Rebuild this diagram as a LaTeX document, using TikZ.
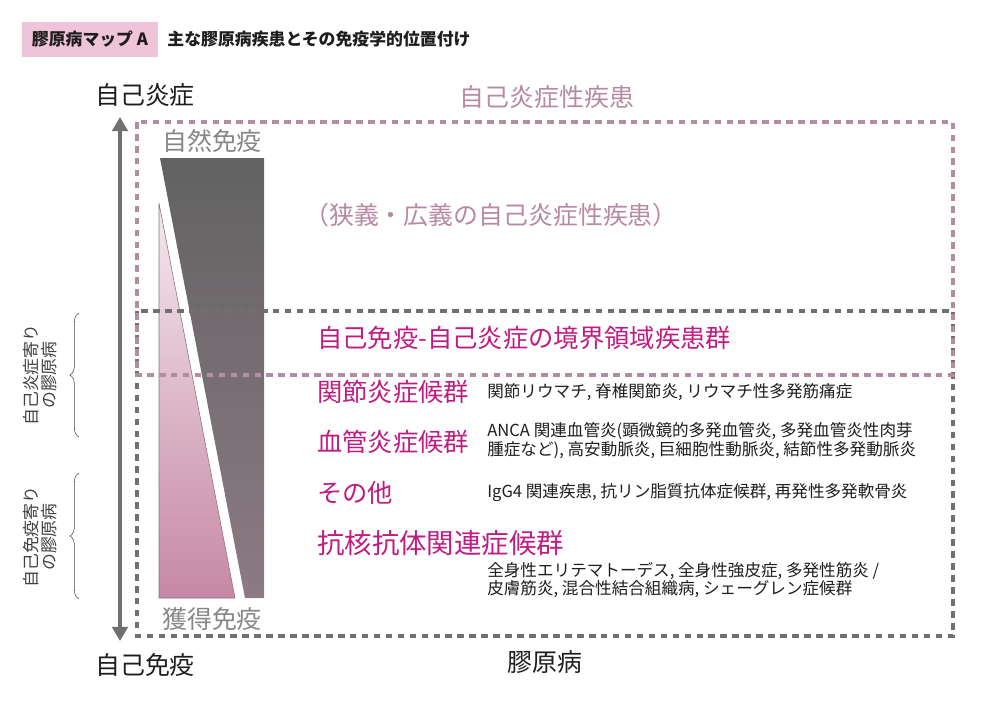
\documentclass[tikz,border=0pt]{standalone}
\usepackage{fontspec}
\setmainfont{Noto Sans CJK JP}
\usetikzlibrary{arrows.meta,positioning,decorations.pathreplacing}
\definecolor{cmMauve}   {RGB}{178,140,160}
\definecolor{cmMauveT}  {RGB}{182,138,162}
\definecolor{cmMagenta} {RGB}{192, 28,128}
\definecolor{cmGrey}    {RGB}{112,112,112}
\definecolor{cmGreyT}   {RGB}{135,135,135}
\definecolor{cmPinkBox} {RGB}{240,196,216}
\definecolor{cmDarkTop} {RGB}{ 98, 98, 98}
\definecolor{cmDarkBot} {RGB}{140,122,132}
\definecolor{cmPinkTop} {RGB}{244,232,238}
\definecolor{cmPinkBot} {RGB}{198,136,164}
\definecolor{cmInk}     {RGB}{ 30, 30, 30}

\begin{document}
\begin{tikzpicture}[x=0.025cm,y=-0.025cm,
  >={Triangle[length=10pt,width=11pt]},
  every node/.style={inner sep=0pt},
  big/.style ={font=\fontsize{17.7}{20}\selectfont},
  head/.style={anchor=west,text=cmMagenta,font=\fontsize{18}{20}\selectfont},
  desc/.style={anchor=west,align=left,text=cmInk,
               font=\fontsize{11.8}{13.5}\selectfont},
  side/.style={rotate=90,align=center,text=cmInk!85,
               font=\fontsize{12}{12.4}\selectfont},
  frameP/.style={draw=cmMauve,line width=3.4pt,dash pattern=on 4.7pt off 3.8pt},
  frameG/.style={draw=cmGrey,line width=3.4pt,dash pattern=on 4.7pt off 3.8pt},
  bracket/.style={decorate,decoration={brace,amplitude=6.5pt},draw=cmInk!80,thin}
]
\useasboundingbox (0,0) rectangle (1000,711);

% title
\node[fill=cmPinkBox,minimum width=3.4cm,minimum height=0.875cm,
      font=\fontsize{12}{14}\selectfont\bfseries,text=cmInk] (mapA) at (90,39.5)
   {膠原病マップ A};
\node[right=0.22cm of mapA,font=\fontsize{12}{14}\selectfont\bfseries,text=cmInk]
   (subtitle) {主な膠原病疾患とその免疫学的位置付け};

% innate / acquired wedges
\shade[top color=cmDarkTop,bottom color=cmDarkBot]
   (160,158) -- (264,158) -- (264,598) -- (245,598) -- cycle;
\shadedraw[top color=cmPinkTop,bottom color=cmPinkBot,draw=cmMauve!80!black,line width=0.4pt]
   (159,203) -- (235,598) -- (159,598) -- cycle;

% frames
\draw[frameG] (137,311) rectangle (953,636);
\draw[frameP] (137,122) rectangle (953,375);

% axis
\coordinate (axTop) at (120,117);
\coordinate (axBot) at (120,641);
\draw[<->,cmGrey,line width=3.2pt] (axTop) -- (axBot);

\node[big,text=cmInk] (lblInflam) at (145,95)  {自己炎症};
\node[big,text=cmInk] (lblImmune) at (145,665) {自己免疫};
\node[big,text=cmInk] (collagen)  at (545,662) {膠原病};

\node[big,text=cmGreyT] (innate)   at (212,141) {自然免疫};
\node[big,text=cmGreyT] (acquired) at (212,619) {獲得免疫};

% autoinflammatory block
\node[big,text=cmMauveT] (autoinf) at (547,97)  {自己炎症性疾患};
\node[big,text=cmMauveT] (narrow)  at (491,215) {（狭義・広義の自己炎症性疾患）};
\node[head] (border) at (317,338) {自己免疫-自己炎症の境界領域疾患群};

% collagen disease groups
\node[head] (arth)  at (317,392) {関節炎症候群};
\node[head] (vasc)  at (317,442) {血管炎症候群};
\node[head] (other) at (317,493) {その他};
\node[head,font=\fontsize{19.5}{22}\selectfont] (ana) at (317,543) {抗核抗体関連症候群};

\node[desc] (arthD)  at (487,392) {関節リウマチ, 脊椎関節炎, リウマチ性多発筋痛症};
\node[desc] (vascD)  at (487,441) {ANCA 関連血管炎(顕微鏡的多発血管炎, 多発血管炎性肉芽\\
                                   腫症など), 高安動脈炎, 巨細胞性動脈炎, 結節性多発動脈炎};
\node[desc] (otherD) at (487,493) {IgG4 関連疾患, 抗リン脂質抗体症候群, 再発性多発軟骨炎};
\node[desc] (anaD)   at (487,580) {全身性エリテマトーデス, 全身性強皮症, 多発性筋炎 /\\
                                   皮膚筋炎, 混合性結合組織病, シェーグレン症候群};

% side braces
\coordinate (brA1) at (79,437);
\coordinate (brA2) at (79,313);
\coordinate (brB1) at (79,599);
\coordinate (brB2) at (79,473);
\draw[bracket] (brA1) -- (brA2);
\draw[bracket] (brB1) -- (brB2);
\node[side] (nearInflam) at (40,375) {自己炎症寄り\\の膠原病};
\node[side] (nearImmune) at (40,537) {自己免疫寄り\\の膠原病};
\end{tikzpicture}
\end{document}
